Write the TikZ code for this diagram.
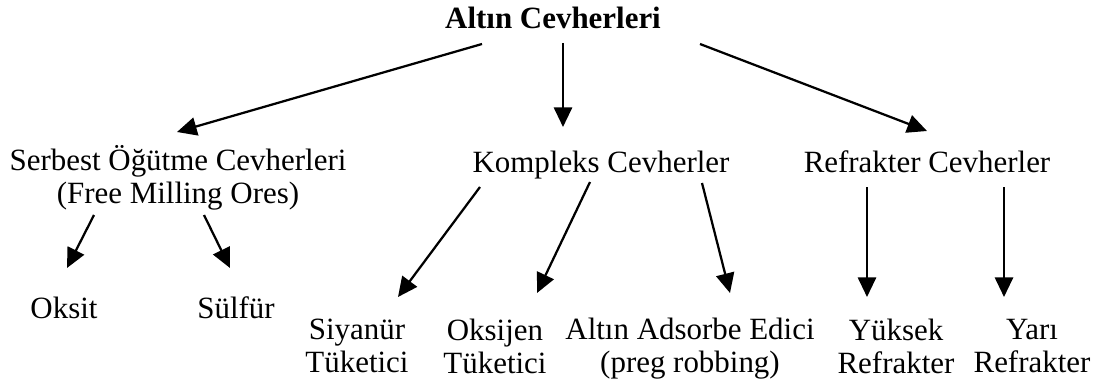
\documentclass[tikz,border=0pt]{standalone}
\usepackage{fontspec}
\setmainfont{Liberation Serif}
\usetikzlibrary{positioning, arrows.meta}

\begin{document}
\begin{tikzpicture}[
    x=0.025cm, y=-0.025cm,
    txt/.style={align=center, inner sep=0pt, font=\fontsize{22}{23.5}\selectfont},
    link/.style={->, line width=1.6pt},
    >={Triangle[length=14pt, width=13pt]}
]
    \useasboundingbox (0,0) rectangle (1097,381);

    % Root
    \node[txt, font=\fontsize{22}{23.5}\selectfont\bfseries] (top) at (553,18) {Altın Cevherleri};

    % Second level
    \node[txt] (serbest) at (178,178) {Serbest Öğütme Cevherleri\\(Free Milling Ores)};
    \node[txt] (kompleks) at (601,165) {Kompleks Cevherler};
    \node[txt] (refrakter) at (927,162) {Refrakter Cevherler};

    % Third level
    \node[txt] (oksit) at (64,308) {Oksit};
    \node[txt] (sulfur) at (236,308) {Sülfür};
    \node[txt] (siyanur) at (357,346) {Siyanür\\Tüketici};
    \node[txt] (oksijen) at (495,346) {Oksijen\\Tüketici};
    \node[txt] (adsorbe) at (690,349) {Altın Adsorbe Edici\\(preg robbing)};
    \node[txt] (yuksek) at (896,346) {Yüksek\\Refrakter};
    \node[txt] (yari) at (1032,346) {Yarı\\Refrakter};

    % Arrow ends
    \coordinate (top-l) at (482,44);
    \coordinate (top-m) at (563,43);
    \coordinate (top-r) at (700,44);
    \coordinate (serbest-in) at (177,132);
    \coordinate (kompleks-in) at (563,127);
    \coordinate (refrakter-in) at (927,131);

    \coordinate (serbest-l) at (94,215);
    \coordinate (serbest-r) at (204,215);
    \coordinate (oksit-in) at (67,268);
    \coordinate (sulfur-in) at (230,268);

    \coordinate (kompleks-l) at (480,187);
    \coordinate (kompleks-m) at (590,182);
    \coordinate (kompleks-r) at (702,183);
    \coordinate (siyanur-in) at (398,297);
    \coordinate (oksijen-in) at (537,293);
    \coordinate (adsorbe-in) at (730,293);

    \coordinate (refrakter-l) at (867,187);
    \coordinate (refrakter-r) at (1004,187);
    \coordinate (yuksek-in) at (867,297);
    \coordinate (yari-in) at (1004,297);

    % Arrows
    \draw[link] (top-l) -- (serbest-in);
    \draw[link] (top-m) -- (kompleks-in);
    \draw[link] (top-r) -- (refrakter-in);
    \draw[link] (serbest-l) -- (oksit-in);
    \draw[link] (serbest-r) -- (sulfur-in);
    \draw[link] (kompleks-l) -- (siyanur-in);
    \draw[link] (kompleks-m) -- (oksijen-in);
    \draw[link] (kompleks-r) -- (adsorbe-in);
    \draw[link] (refrakter-l) -- (yuksek-in);
    \draw[link] (refrakter-r) -- (yari-in);
\end{tikzpicture}
\end{document}
